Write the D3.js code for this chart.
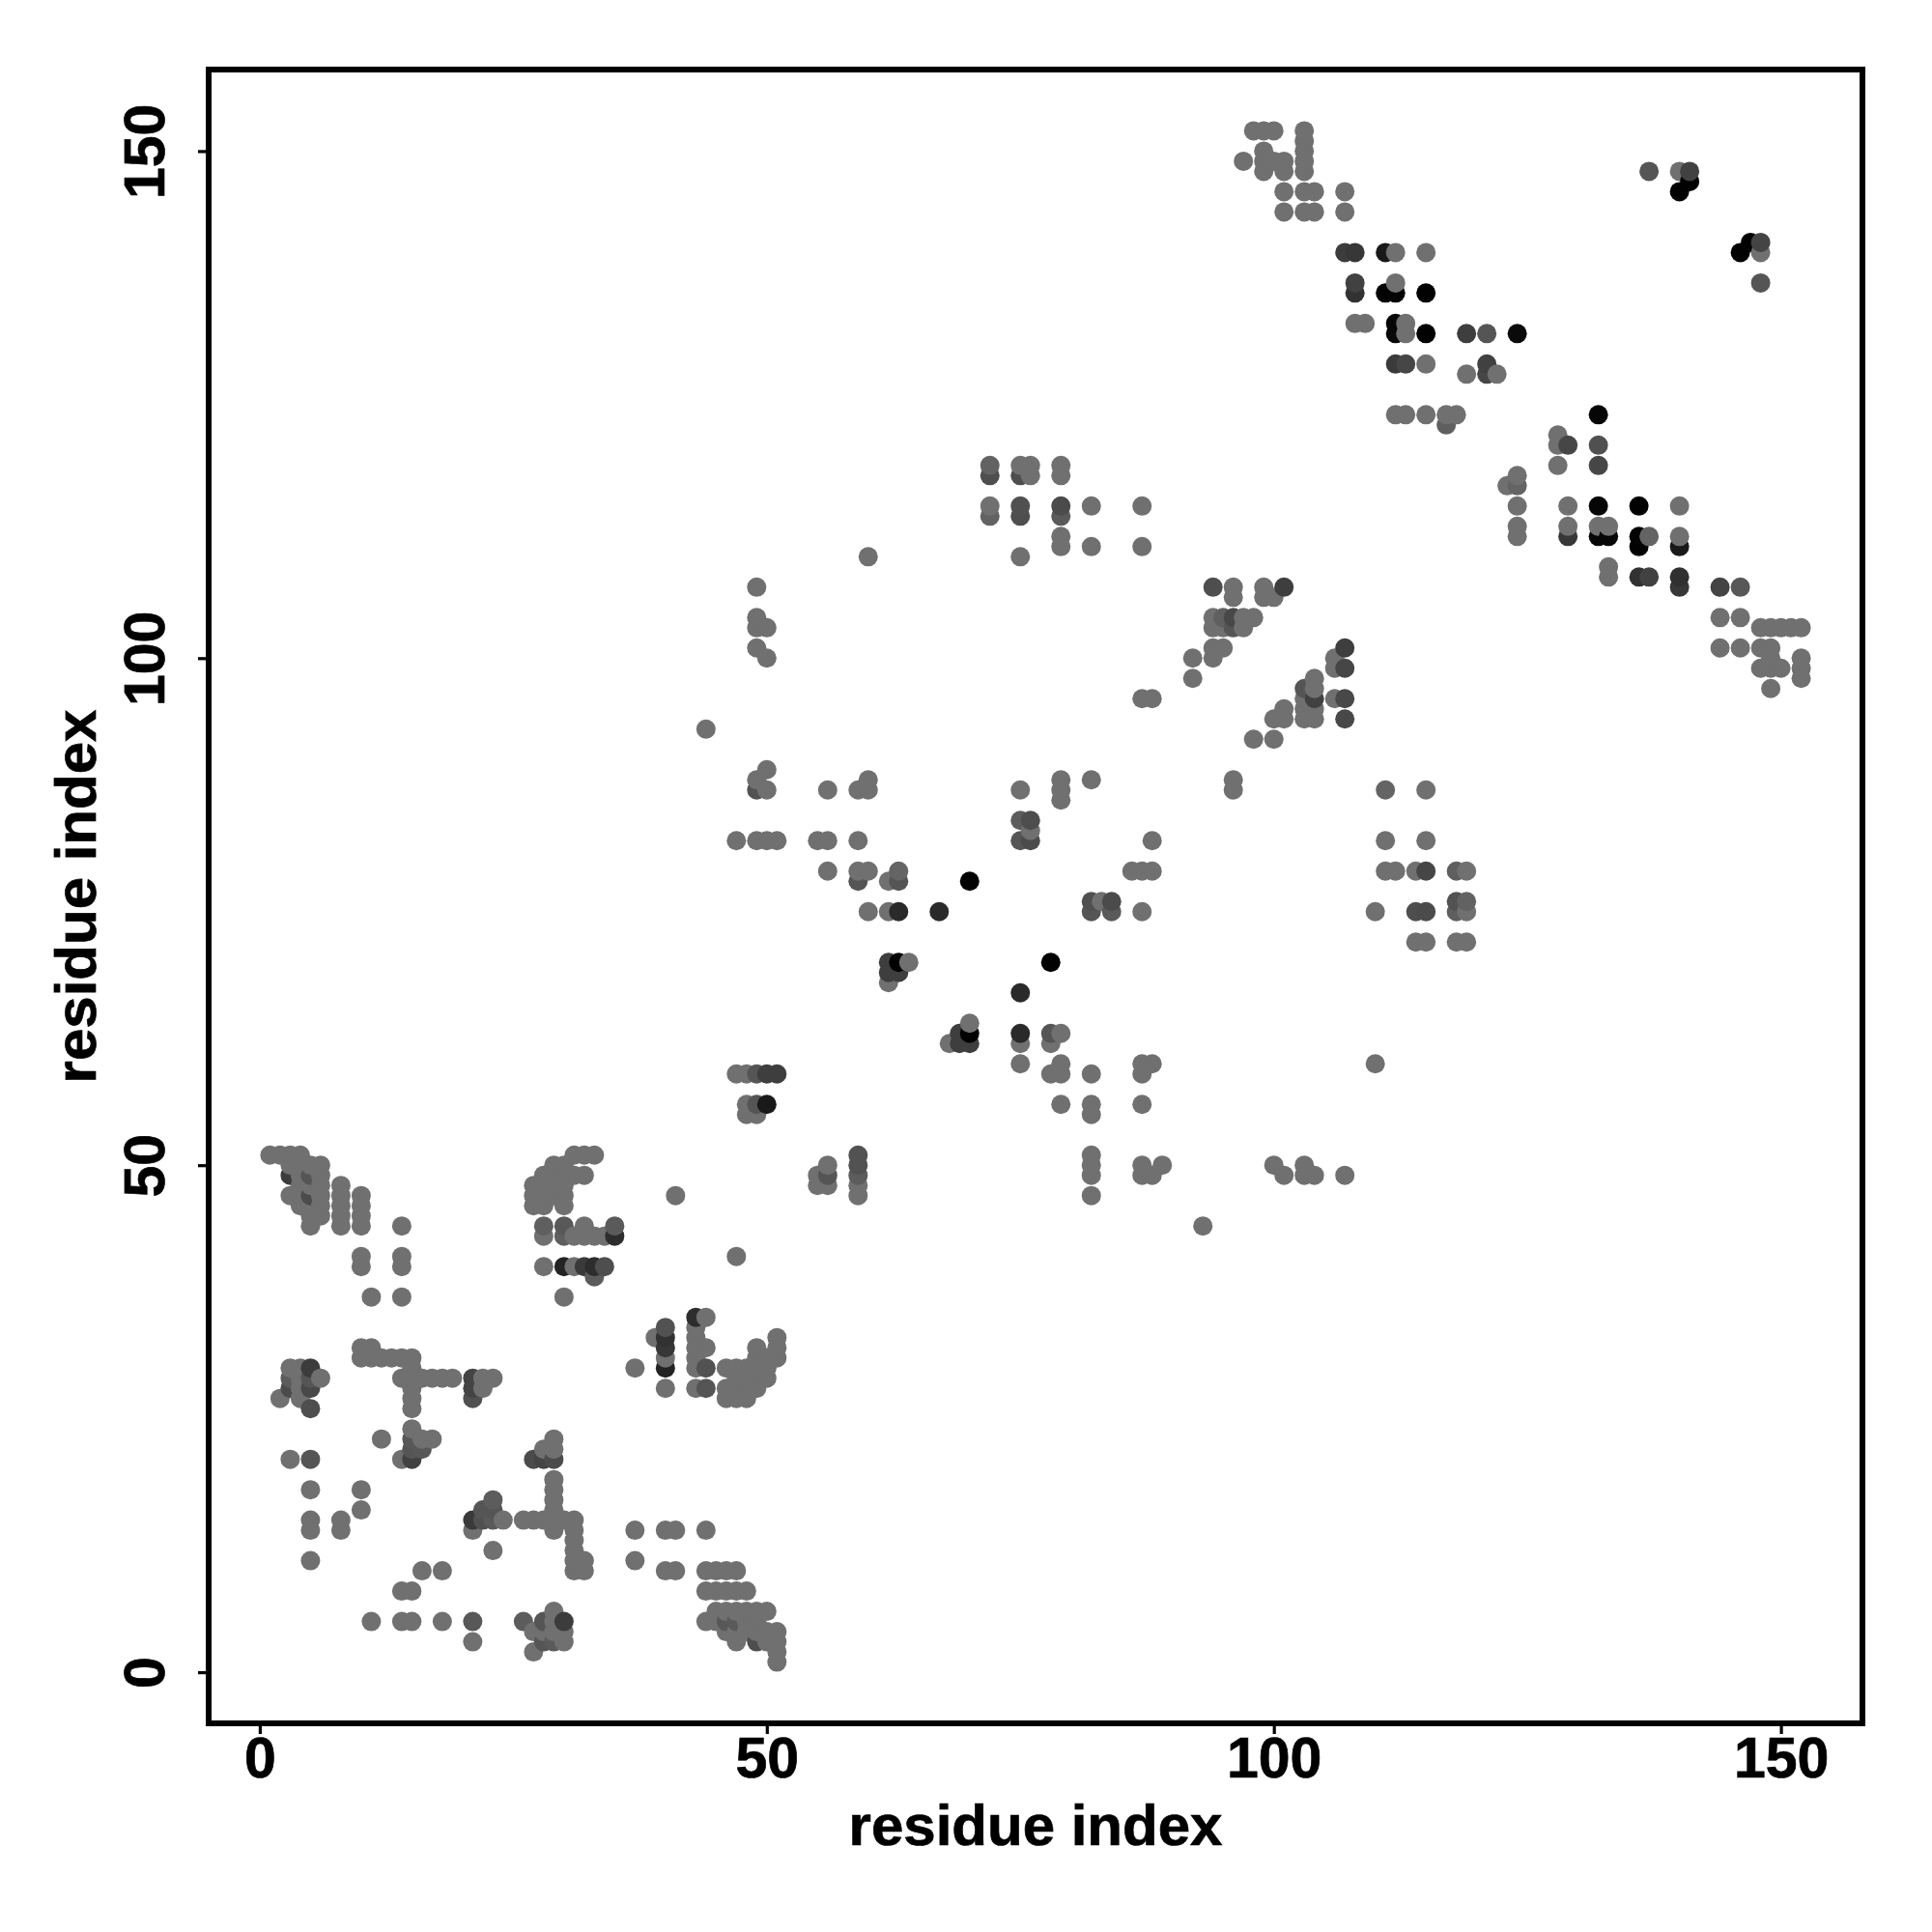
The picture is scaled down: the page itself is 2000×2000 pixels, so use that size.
<!DOCTYPE html>
<html><head><meta charset="utf-8">
<script src="https://cdn.jsdelivr.net/npm/d3@7/dist/d3.min.js"></script>
<style>html,body{margin:0;padding:0;background:#fff}svg{display:block}</style>
</head><body><div id="chart"></div>
<script>
const xTickValues = [0, 50, 100, 150];
const yTickValues = [0, 50, 100, 150];
const xTitle = "residue index";
const yTitle = "residue index";
const defaultGrey = 112;

// contacts, one row per y residue: [y, [x residues]]
const contactRows = [
[1,[51]],[2,[27,51]],[3,[21,28,29,30,47,49,50,51]],[4,[27,28,29,30,46,47,48,49,50,51]],
[5,[11,14,15,18,21,26,28,29,30,44,45,46,47,48,49]],[6,[29,45,46,47,48,49,50]],
[8,[14,15,44,45,46,47,48]],[10,[16,18,31,32,40,41,44,45,46,47]],[11,[5,31,32,37]],[12,[23,31]],[13,[31]],
[14,[5,8,21,29,31,37,40,41,44]],[15,[5,8,21,22,23,24,26,27,28,29,30,31]],[16,[10,22,23,29]],[17,[23,29]],
[18,[5,10,29]],[19,[29]],[21,[3,5,14,15,27,28,29]],[22,[15,16,28,29]],[23,[12,15,16,17,29]],[24,[15]],
[26,[5,15]],[27,[2,4,15,21,46,47,48]],[28,[3,4,5,15,21,22,40,43,44,46,47,48,49]],
[29,[3,4,5,6,14,15,16,17,18,19,21,22,23,47,48,49,50]],[30,[3,4,5,15,37,40,43,44,46,47,48,49,50]],
[31,[10,11,12,13,14,15,40,43,49,50,51]],[32,[10,11,40,43,44,49,51]],[33,[39,40,43,51]],[34,[40,43]],[35,[43,44]],
[37,[11,14,30]],[39,[33]],[40,[10,14,28,30,31,32,33,34]],[41,[10,14,47]],[43,[28,30,31,32,33,34,35]],
[44,[5,8,10,14,28,30,32,35,93]],[45,[5,6,8,10]],[46,[4,5,6,8,10,27,28,30]],
[47,[3,4,5,6,8,10,27,28,29,30,41,59,82]],[48,[4,5,6,8,27,28,29,30,55,56,59]],
[49,[3,4,5,6,28,29,30,31,32,55,56,59,82,87,88,101,103,104,107]],[50,[3,4,5,6,29,30,56,59,82,87,89,100,103]],
[51,[1,2,3,4,31,32,33,59,82]],[55,[48,49,82]],[56,[48,49,50,79,82,87]],[59,[47,48,49,50,51,78,79,82,87]],
[60,[75,79,87,88,110]],[62,[68,69,70,75,78]],[63,[69,70,75,78,79]],[64,[70]],[67,[75]],[68,[62]],[69,[62,63]],
[70,[62,63,64,78]],[72,[114,115,118,119]],[75,[60,62,63,67,82,84,87,110,114,115,118,119]],[76,[82,83,84,118,119]],
[78,[59,62,63,70]],[79,[56,59,60,63,86,87,88,111,112,114,115,118,119]],[82,[47,49,50,51,55,56,59,75,76,88,111,115]],
[83,[76]],[84,[75,76]],[86,[79]],[87,[49,50,56,59,60,75,79,96,111,115]],[88,[49,60,79,82,96]],[89,[50]],
[92,[98,100]],[93,[44]],[94,[100,101,103,104,107]],[95,[101,103,104]],[96,[87,88,103,104,106,107]],
[97,[103,104,149]],[98,[92,104,152]],[99,[106,107,148,149,150,152]],[100,[50,92,94,106,149,152]],
[101,[49,94,95,107,144,146,148,149]],[103,[49,50,94,95,96,97,148,149,150,151,152]],[104,[49,94,95,96,97,98,144,146]],
[106,[96,99,100]],[107,[49,94,96,99,101,140,144,146]],[108,[133,136,137,140]],[109,[133]],[110,[60,75]],
[111,[79,82,87,136,140]],[112,[79,124,129,132,133,136,137,140]],[113,[124,129,132,133]],[114,[72,75,79]],
[115,[72,75,79,82,87,124,129,132,136,140]],[117,[123,124]],[118,[72,75,76,79,124]],[119,[72,75,76,79,128,132]],
[121,[128,129,132]],[122,[128]],[123,[117]],[124,[112,113,115,117,118,132]],[128,[119,121,122]],
[129,[112,113,115,121]],[132,[112,113,115,119,121,124]],[133,[108,109,112,113]],[136,[108,111,112,115]],
[137,[108,112,148]],[140,[107,108,111,112,115,146,148]],[141,[147,148]],[144,[101,103,104,107]],
[146,[101,103,104,107,140]],[147,[141]],[148,[99,101,103,137,140,141]],[149,[97,99,100,101,103]],[150,[99,103]],
[151,[103]],[152,[98,99,100,103]]
];

// contacts darker than the usual grey: [x, y, grey]
const blackContacts = [
[70,78,2],[78,70,2],[63,70,2],[70,63,2],[146,140,2],[147,141,2],[141,147,2],[140,146,2],[111,136,2],[112,136,4],
[115,136,2],[112,133,6],[112,132,8],[115,132,2],[124,132,10],[132,124,6],[132,115,6],[136,115,2],[132,112,6],
[133,112,6],[136,112,4],[136,111,2],[50,56,25],[111,140,25],[140,111,25]
];
const darkContacts = [
[63,75,42],[67,75,42],[75,67,42],[75,63,42],[30,40,35],[35,43,45],[40,30,35],[40,33,50],[40,32,55],[43,35,45],
[33,40,45],[32,40,58],[140,108,48],[136,108,50],[129,112,55],[140,107,55],[107,140,60],[108,140,55],[108,136,50],
[108,137,65],[141,148,65],[148,141,68],[112,129,58],[113,129,70],[121,129,65],[121,128,70],[119,132,62],
[132,119,70],[129,121,70],[137,108,65],[144,107,68],[62,70,62],[62,69,62],[63,69,62],[69,63,62],[69,62,62],
[70,62,62],[50,59,62],[51,59,62],[3,49,60],[5,30,60],[21,15,58],[21,29,68],[21,28,68],[15,21,65],[28,21,68],
[30,5,60],[103,97,85],[104,96,65],[107,101,62],[107,99,70],[107,96,72],[107,94,72],[101,107,62],[94,107,78],
[96,104,72]
];
const midContacts = [
[5,28,72],[3,28,75],[5,26,78],[21,27,80],[5,21,85],[15,22,85],[16,22,88],[15,23,88],[27,21,75],[29,21,75],
[22,15,80],[22,16,85],[23,16,85],[23,15,90],[23,17,92],[40,34,82],[49,3,78],[47,5,90],[46,5,88],[21,5,88],
[28,5,85],[28,3,85],[29,3,90],[26,5,92],[34,40,78],[35,44,90],[30,44,88],[28,44,95],[30,43,95],[33,39,92],
[44,30,82],[44,28,85],[5,29,85],[3,29,92],[5,49,85],[5,47,75],[49,59,85],[49,56,85],[59,51,82],[59,50,82],
[59,49,92],[82,76,80],[84,76,75],[82,75,85],[84,75,90],[76,84,78],[76,82,75],[75,82,85],[75,84,92],[72,118,78],
[72,119,98],[75,118,78],[79,115,75],[79,114,90],[75,115,80],[75,114,78],[72,114,98],[56,49,85],[59,78,85],
[63,78,85],[63,79,100],[49,87,82],[78,63,85],[137,148,85],[148,137,85],[132,121,80],[121,132,85],[146,107,88],
[124,117,100],[117,123,95],[115,79,70],[111,87,100],[96,103,85],[95,104,95],[118,75,95],[118,79,95],
[118,76,82],[119,76,98],[114,75,78],[115,75,75],[137,112,100]
];

const overrides = new Map([...blackContacts, ...darkContacts, ...midContacts].map(d => [d[0] + "," + d[1], d[2]]));
const contacts = contactRows
  .flatMap(([y, xs]) => xs.map(x => ({x, y, grey: overrides.has(x + "," + y) ? overrides.get(x + "," + y) : defaultGrey})))
  .sort((a, b) => d3.ascending(a.x, b.x) || d3.ascending(a.y, b.y));

const W = 2000, H = 2000;
const frame = {left: 216, right: 1928, top: 72, bottom: 1784};
const font = "'Liberation Sans', Arial, Helvetica, sans-serif";

const x = d3.scaleLinear().domain([-5.04, 158.04]).range([frame.left, frame.right]);
const y = d3.scaleLinear().domain([-5.04, 158.04]).range([frame.bottom, frame.top]);

const svg = d3.select("#chart").append("svg").attr("width", W).attr("height", H).attr("viewBox", `0 0 ${W} ${H}`);
svg.append("rect").attr("width", W).attr("height", H).attr("fill", "#fff");

svg.append("g").selectAll("circle").data(contacts).join("circle")
  .attr("cx", d => x(d.x)).attr("cy", d => y(d.y)).attr("r", 10)
  .attr("fill", d => d3.rgb(d.grey, d.grey, d.grey).formatHex());

const gx = svg.append("g").attr("transform", `translate(0,${frame.bottom})`)
  .call(d3.axisBottom(x).tickValues(xTickValues).tickSize(11).tickSizeOuter(0).tickPadding(10));
const gy = svg.append("g").attr("transform", `translate(${frame.left},0)`)
  .call(d3.axisLeft(y).tickValues(yTickValues).tickSize(11).tickSizeOuter(0));
[gx, gy].forEach(g => {
  g.select(".domain").remove();
  g.selectAll("line").attr("stroke", "#000").attr("stroke-width", 3.2);
});
gx.selectAll("text").attr("fill", "#000").attr("stroke", "#000").attr("stroke-width", 0.7)
  .attr("font-family", font).attr("font-weight", 700).attr("font-size", 59)
  .attr("text-anchor", "middle").attr("dy", null).attr("y", 56);
gy.selectAll("text").attr("fill", "#000").attr("stroke", "#000").attr("stroke-width", 0.7)
  .attr("font-family", font).attr("font-weight", 700).attr("font-size", 59)
  .attr("text-anchor", "middle").attr("dy", null).attr("x", 0)
  .attr("transform", "translate(-46,0) rotate(-90)");

svg.append("rect").attr("x", frame.left).attr("y", frame.top)
  .attr("width", frame.right - frame.left).attr("height", frame.bottom - frame.top)
  .attr("fill", "none").attr("stroke", "#000").attr("stroke-width", 6);

svg.append("text").attr("x", (frame.left + frame.right) / 2).attr("y", 1910)
  .attr("text-anchor", "middle").attr("font-family", font).attr("font-weight", 700).attr("font-size", 60)
  .attr("fill", "#000").attr("stroke", "#000").attr("stroke-width", 0.7).text(xTitle);
svg.append("text").attr("transform", `translate(99,${(frame.top + frame.bottom) / 2}) rotate(-90)`)
  .attr("text-anchor", "middle").attr("font-family", font).attr("font-weight", 700).attr("font-size", 60)
  .attr("fill", "#000").attr("stroke", "#000").attr("stroke-width", 0.7).text(yTitle);
</script></body></html>
